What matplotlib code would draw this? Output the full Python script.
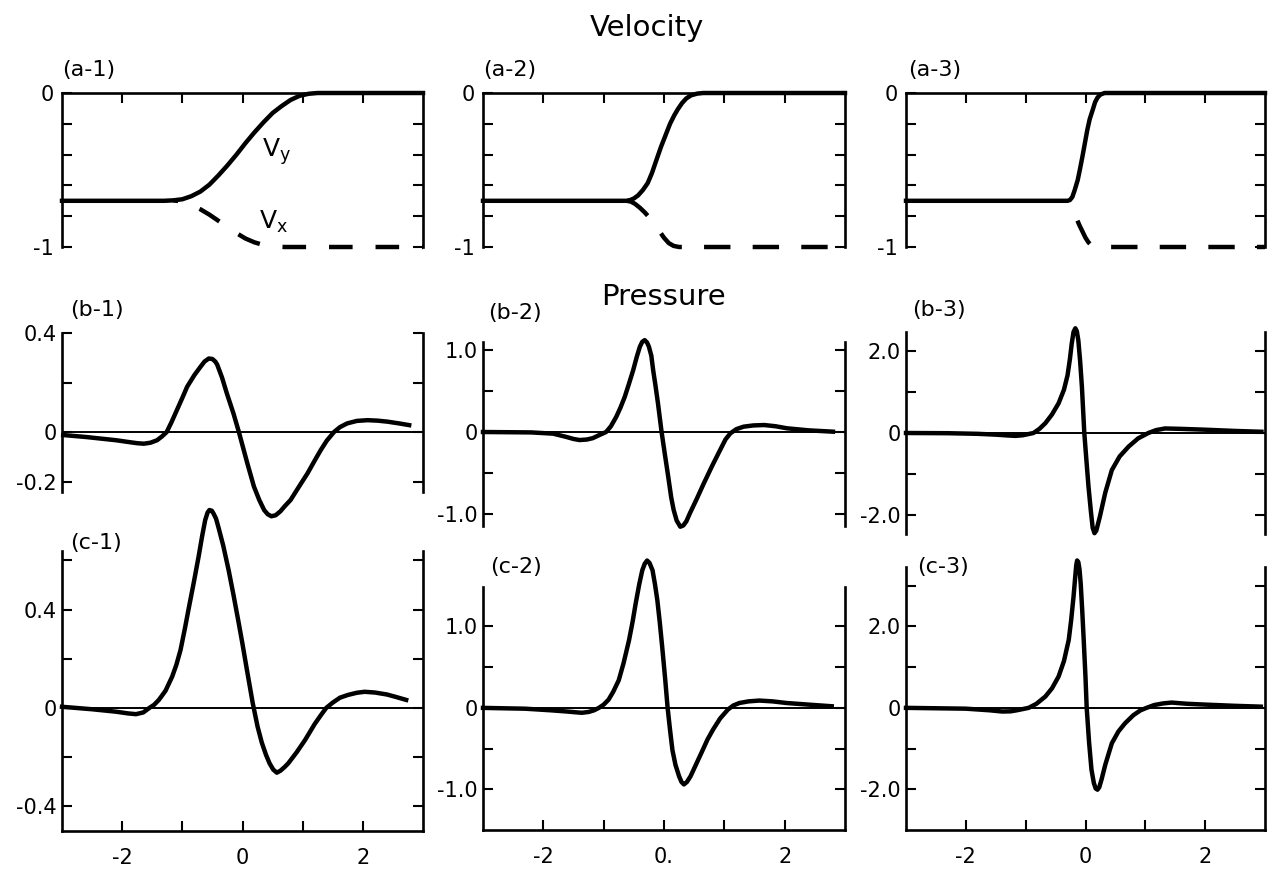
import matplotlib
matplotlib.use('Agg')
import matplotlib.pyplot as plt

plt.rcParams['font.family'] = ['DejaVu Sans']
plt.rcParams['lines.scale_dashes'] = False

# ---------------- data ----------------
# Row a: velocity profiles (Vy solid, Vx dashed)
a1_vy_x = [-3.0, -1.3, -1.15, -1.0, -0.85, -0.7, -0.55, -0.4, -0.25, -0.1, 0.05, 0.2, 0.35, 0.5, 0.65, 0.8, 0.95, 1.1, 1.25, 3.0]
a1_vy_y = [-0.70, -0.70, -0.697, -0.69, -0.67, -0.64, -0.595, -0.535, -0.47, -0.40, -0.325, -0.255, -0.19, -0.13, -0.085, -0.045, -0.018, -0.005, 0.0, 0.0]
a1_vx_x = [-1.15, -1.0, -0.85, -0.7, -0.55, -0.4, -0.25, -0.1, 0.05, 0.2, 0.35, 0.5, 0.7, 3.0]
a1_vx_y = [-0.697, -0.705, -0.725, -0.755, -0.79, -0.83, -0.87, -0.91, -0.945, -0.97, -0.987, -0.996, -1.0, -1.0]

a2_vy_x = [-3.0, -0.62, -0.56, -0.5, -0.43, -0.35, -0.27, -0.2, -0.13, -0.05, 0.03, 0.1, 0.17, 0.23, 0.3, 0.37, 0.45, 0.55, 0.65, 3.0]
a2_vy_y = [-0.70, -0.70, -0.695, -0.685, -0.665, -0.63, -0.585, -0.52, -0.44, -0.35, -0.27, -0.2, -0.145, -0.105, -0.065, -0.035, -0.015, -0.004, 0.0, 0.0]
a2_vx_x = [-0.62, -0.55, -0.48, -0.4, -0.32, -0.24, -0.16, -0.08, 0.0, 0.08, 0.16, 0.25, 3.0]
a2_vx_y = [-0.70, -0.705, -0.72, -0.745, -0.775, -0.81, -0.85, -0.895, -0.94, -0.975, -0.993, -1.0, -1.0]

a3_vy_x = [-3.0, -0.3, -0.26, -0.22, -0.18, -0.13, -0.09, -0.05, -0.01, 0.03, 0.07, 0.12, 0.16, 0.2, 0.25, 0.32, 3.0]
a3_vy_y = [-0.70, -0.70, -0.695, -0.675, -0.63, -0.565, -0.49, -0.41, -0.325, -0.24, -0.17, -0.11, -0.06, -0.03, -0.01, 0.0, 0.0]
a3_vx_x = [-0.3, -0.25, -0.2, -0.15, -0.1, -0.05, 0.0, 0.05, 0.1, 0.15, 0.2, 3.0]
a3_vx_y = [-0.70, -0.73, -0.77, -0.815, -0.86, -0.9, -0.94, -0.97, -0.99, -0.998, -1.0, -1.0]

# Row b: pressure
b1_x = [-2.98, -2.6, -2.37, -2.1, -1.9, -1.75, -1.64, -1.53, -1.42, -1.34, -1.26, -1.18, -1.09, -1.0, -0.92,
        -0.8, -0.7, -0.63, -0.56, -0.5, -0.45, -0.42, -0.34, -0.26, -0.15, -0.06, 0.08, 0.19, 0.28, 0.36,
        0.42, 0.48, 0.55, 0.63, 0.7, 0.8, 0.94, 1.08, 1.2, 1.3, 1.4, 1.52, 1.62, 1.74, 1.9, 2.08, 2.25,
        2.41, 2.6, 2.77]
b1_y = [-0.012, -0.02, -0.026, -0.033, -0.04, -0.045, -0.047, -0.043, -0.033, -0.018, 0.0, 0.04, 0.089, 0.138, 0.183,
        0.23, 0.263, 0.285, 0.297, 0.295, 0.284, 0.272, 0.22, 0.156, 0.075, 0.0, -0.126, -0.22, -0.275, -0.315,
        -0.332, -0.34, -0.336, -0.32, -0.3, -0.274, -0.22, -0.167, -0.115, -0.073, -0.035, 0.0, 0.02, 0.035, 0.045, 0.048, 0.046,
        0.042, 0.035, 0.028]

b2_x = [-3.0, -2.2, -1.84, -1.62, -1.5, -1.4, -1.28, -1.18, -1.08, -0.96, -0.88, -0.79, -0.72, -0.65, -0.58,
        -0.51, -0.45, -0.4, -0.36, -0.32, -0.28, -0.25, -0.21, -0.18, -0.14, -0.1, -0.04, 0.02, 0.07, 0.12,
        0.16, 0.21, 0.27, 0.32, 0.37, 0.43, 0.54, 0.66, 0.8, 0.93, 1.02, 1.1, 1.2, 1.32, 1.48, 1.66, 1.85,
        2.04, 2.4, 2.8]
b2_y = [0.0, -0.005, -0.02, -0.06, -0.085, -0.098, -0.092, -0.075, -0.04, 0.0, 0.07, 0.187, 0.3, 0.43, 0.59,
        0.756, 0.92, 1.04, 1.1, 1.12, 1.09, 1.04, 0.93, 0.756, 0.56, 0.35, 0.0, -0.3, -0.545, -0.8,
        -0.95, -1.08, -1.155, -1.14, -1.09, -0.99, -0.82, -0.626, -0.41, -0.22, -0.09, -0.016, 0.035, 0.065, 0.08, 0.085, 0.07,
        0.045, 0.02, 0.004]

b3_x = [-3.0, -2.3, -1.8, -1.5, -1.3, -1.17, -1.05, -0.95, -0.87, -0.77, -0.67, -0.56, -0.45, -0.36, -0.3,
        -0.26, -0.23, -0.2, -0.17, -0.145, -0.12, -0.09, -0.06, -0.02, 0.02, 0.05, 0.09, 0.12, 0.15, 0.18,
        0.21, 0.24, 0.33, 0.44, 0.57, 0.72, 0.88, 1.05, 1.18, 1.33, 1.6, 2.0, 2.5, 2.94]
b3_y = [0.0, -0.005, -0.02, -0.04, -0.06, -0.07, -0.055, -0.025, 0.0, 0.1, 0.24, 0.45, 0.72, 1.05, 1.4,
        1.8, 2.17, 2.45, 2.54, 2.47, 2.25, 1.75, 1.12, 0.0, -0.75, -1.3, -1.9, -2.3, -2.43, -2.37,
        -2.2, -2.03, -1.45, -0.9, -0.57, -0.33, -0.13, 0.0, 0.07, 0.11, 0.1, 0.08, 0.05, 0.03]

# Row c: pressure
c1_x = [-3.0, -2.5, -2.1, -1.9, -1.77, -1.65, -1.55, -1.47, -1.39, -1.28, -1.17, -1.1, -1.03, -0.96, -0.89,
        -0.81, -0.73, -0.67, -0.62, -0.58, -0.55, -0.51, -0.48, -0.44, -0.4, -0.32, -0.23, -0.15, -0.07, 0.0,
        0.07, 0.17, 0.25, 0.32, 0.39, 0.45, 0.51, 0.57, 0.63, 0.7, 0.76, 0.9, 1.04, 1.2, 1.3, 1.39, 1.5,
        1.62, 1.75, 1.9, 2.03, 2.2, 2.4, 2.55, 2.72]
c1_y = [0.005, -0.005, -0.015, -0.022, -0.025, -0.018, 0.0, 0.013, 0.033, 0.07, 0.127, 0.175, 0.236, 0.32, 0.41,
        0.51, 0.615, 0.7, 0.764, 0.795, 0.805, 0.802, 0.79, 0.77, 0.735, 0.66, 0.56, 0.46, 0.355, 0.26,
        0.16, 0.02, -0.075, -0.14, -0.19, -0.225, -0.25, -0.263, -0.255, -0.24, -0.225, -0.18, -0.13, -0.065, -0.03, 0.0, 0.022,
        0.042, 0.053, 0.062, 0.066, 0.063, 0.055, 0.045, 0.033]

c2_x = [-3.0, -2.3, -1.87, -1.6, -1.45, -1.36, -1.25, -1.16, -1.08, -1.0, -0.92, -0.84, -0.75, -0.67, -0.58,
        -0.52, -0.47, -0.41, -0.36, -0.32, -0.28, -0.24, -0.19, -0.15, -0.11, -0.07, -0.03, 0.02, 0.06, 0.1,
        0.14, 0.19, 0.25, 0.29, 0.33, 0.38, 0.44, 0.54, 0.64, 0.72, 0.81, 0.93, 1.06, 1.15, 1.25, 1.4, 1.58,
        1.8, 2.03, 2.4, 2.78]
c2_y = [0.0, -0.01, -0.03, -0.045, -0.055, -0.06, -0.05, -0.03, 0.0, 0.04, 0.1, 0.2, 0.34, 0.55, 0.83,
        1.06, 1.28, 1.52, 1.69, 1.77, 1.81, 1.78, 1.69, 1.52, 1.32, 1.05, 0.75, 0.35, 0.0, -0.27,
        -0.52, -0.7, -0.84, -0.91, -0.94, -0.91, -0.84, -0.68, -0.52, -0.39, -0.27, -0.13, -0.02, 0.03, 0.06, 0.08, 0.09,
        0.08, 0.06, 0.04, 0.02]

c3_x = [-3.0, -2.0, -1.6, -1.39, -1.25, -1.15, -1.05, -0.95, -0.82, -0.67, -0.56, -0.45, -0.36, -0.28, -0.24,
        -0.2, -0.17, -0.155, -0.14, -0.12, -0.1, -0.08, -0.055, -0.03, 0.0, 0.02, 0.06, 0.1, 0.14, 0.17,
        0.2, 0.23, 0.27, 0.33, 0.44, 0.55, 0.66, 0.8, 0.92, 1.02, 1.15, 1.3, 1.44, 1.7, 2.0, 2.5, 2.93]
c3_y = [0.0, -0.02, -0.06, -0.09, -0.085, -0.06, -0.03, 0.0, 0.1, 0.28, 0.48, 0.77, 1.15, 1.67, 2.15,
        2.73, 3.25, 3.5, 3.62, 3.58, 3.4, 3.05, 2.4, 1.67, 0.75, 0.0, -0.85, -1.52, -1.85, -1.98,
        -2.01, -1.95, -1.75, -1.4, -0.87, -0.58, -0.38, -0.18, -0.06, 0.0, 0.07, 0.11, 0.13, 0.1, 0.08, 0.05, 0.03]

x_ticks = [-2, -1, 0, 1, 2]
x_ticklabels = ['-2', '', '0', '', '2']
x_ticklabels_mid = ['-2', '', '0.', '', '2']

a_yticks = [0, -0.2, -0.4, -0.6, -0.8, -1.0]
a_ylabels = ['0', '', '', '', '', '-1']
b_yticks = [[0.4, 0.2, 0.0, -0.2], [1.0, 0.5, 0.0, -0.5, -1.0], [2.0, 1.0, 0.0, -1.0, -2.0]]
b_ylabels = [['0.4', '', '0', '-0.2'], ['1.0', '', '0', '', '-1.0'], ['2.0', '', '0', '', '-2.0']]
c_yticks = [[0.6, 0.4, 0.2, 0.0, -0.2, -0.4], [1.0, 0.5, 0.0, -0.5, -1.0], [3.0, 2.0, 1.0, 0.0, -1.0, -2.0]]
c_ylabels = [['', '0.4', '', '0', '', '-0.4'], ['1.0', '', '0', '', '-1.0'], ['', '2.0', '', '0', '', '-2.0']]

# ---------------- layout (pixels) ----------------
W, H = 1278, 873
fig = plt.figure(figsize=(W / 100, H / 100), dpi=100)

col_lr = [(62, 423), (483, 845), (906, 1265)]
row_a_tb = (93, 247)
row_b_tb = [(333, 491.5), (341.8, 526.3), (332, 534)]
row_c_tb = [(550.6, 831), (587.4, 830), (567.4, 830)]
b_ylims = [(-0.24, 0.4), (-1.15, 1.1), (-2.45, 2.45)]
c_ylims = [(-0.5, 0.64), (-1.5, 1.48), (-3.0, 3.45)]

LW_CURVE = 3.2
LW_SPINE = 1.9
LW_ZERO = 1.4
TICK_FS = 15


def add_axes(l, r, t, b):
    return fig.add_axes([l / W, 1 - b / H, (r - l) / W, (b - t) / H])


def style(ax, top, bottom):
    for s in ax.spines.values():
        s.set_linewidth(LW_SPINE)
    ax.spines['top'].set_visible(top)
    ax.spines['bottom'].set_visible(bottom)
    ax.tick_params(axis='both', direction='in', length=7, width=1.5,
                   labelsize=TICK_FS, pad=4)
    ax.tick_params(axis='y', left=True, right=True, labelleft=True, labelright=False)
    ax.set_xlim(-3, 3)
    ax.set_facecolor('none')


def ftext(px, py, s, **kw):
    fig.text(px / W, 1 - py / H, s, **kw)


# Row a
a_data = [(a1_vy_x, a1_vy_y, a1_vx_x, a1_vx_y, (13.5, (17, 16.5))),
          (a2_vy_x, a2_vy_y, a2_vx_x, a2_vx_y, (0, (19, 16))),
          (a3_vy_x, a3_vy_y, a3_vx_x, a3_vx_y, (19, (19, 16)))]
for i, (vyx, vyy, vxx, vxy, dash) in enumerate(a_data):
    l, r = col_lr[i]
    ax = add_axes(l, r, *row_a_tb)
    style(ax, top=True, bottom=False)
    ax.set_ylim(-1, 0)
    ax.plot(vyx, vyy, color='black', lw=LW_CURVE, solid_joinstyle='round', clip_on=False)
    ax.plot(vxx, vxy, color='black', lw=LW_CURVE, linestyle=dash, clip_on=False)
    ax.set_yticks(a_yticks)
    ax.set_yticklabels(a_ylabels)
    ax.tick_params(axis='y', pad=6)
    ax.set_xticks(x_ticks)
    ax.tick_params(axis='x', top=True, bottom=False, labelbottom=False, labeltop=False)
    if i == 0:
        ax.text(0.33, -0.38, r'$\mathregular{V_y}$', fontsize=18, va='center', ha='left')
        ax.text(0.28, -0.84, r'$\mathregular{V_x}$', fontsize=18, va='center', ha='left')

# Row b
b_data = [(b1_x, b1_y), (b2_x, b2_y), (b3_x, b3_y)]
for i, (xx, yy) in enumerate(b_data):
    l, r = col_lr[i]
    ax = add_axes(l, r, *row_b_tb[i])
    style(ax, top=False, bottom=False)
    ax.set_ylim(*b_ylims[i])
    ax.axhline(0, color='black', lw=LW_ZERO)
    ax.plot(xx, yy, color='black', lw=LW_CURVE, solid_joinstyle='round', clip_on=False)
    ax.set_yticks(b_yticks[i])
    ax.set_yticklabels(b_ylabels[i])
    ax.set_xticks([])

# Row c
c_data = [(c1_x, c1_y), (c2_x, c2_y), (c3_x, c3_y)]
for i, (xx, yy) in enumerate(c_data):
    l, r = col_lr[i]
    ax = add_axes(l, r, *row_c_tb[i])
    style(ax, top=False, bottom=True)
    ax.set_ylim(*c_ylims[i])
    ax.axhline(0, color='black', lw=LW_ZERO)
    ax.plot(xx, yy, color='black', lw=LW_CURVE, solid_joinstyle='round', clip_on=False)
    ax.set_yticks(c_yticks[i])
    ax.set_yticklabels(c_ylabels[i])
    ax.set_xticks(x_ticks)
    ax.set_xticklabels(x_ticklabels_mid if i == 1 else x_ticklabels)
    ax.tick_params(axis='x', bottom=True, top=False, pad=12)

# Titles and panel labels
ftext(647, 28, 'Velocity', fontsize=21, ha='center', va='center')
ftext(663, 297, 'Pressure', fontsize=21, ha='center', va='center')

panel_labels = [('(a-1)', 62, 70), ('(a-2)', 483, 70), ('(a-3)', 908, 70),
                ('(b-1)', 70, 310), ('(b-2)', 488, 313), ('(b-3)', 912, 310),
                ('(c-1)', 70, 543), ('(c-2)', 490, 567), ('(c-3)', 917, 567)]
for s, px, py in panel_labels:
    ftext(px, py, s, fontsize=16, ha='left', va='center')

fig.savefig('out.png', dpi=100)
